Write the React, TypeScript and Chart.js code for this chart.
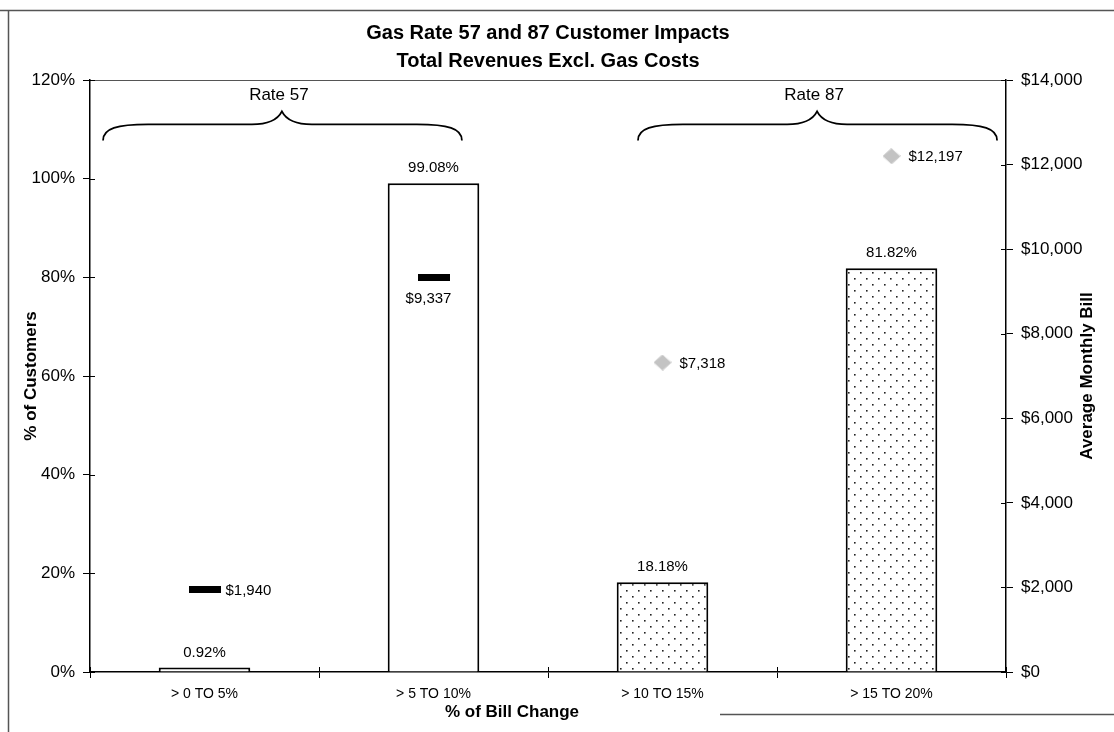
import React, { useEffect, useRef } from 'react';
import { Chart, registerables } from 'chart.js';

Chart.register(...registerables);

const FONT = '"Liberation Sans", Arial, Helvetica, sans-serif';

const titleLines = ['Gas Rate 57 and 87 Customer Impacts', 'Total Revenues Excl. Gas Costs'];
const xAxisTitle = '% of Bill Change';
const yAxisTitle = '% of Customers';
const y2AxisTitle = 'Average Monthly Bill';
const categories = ['> 0 TO 5%', '> 5 TO 10%', '> 10 TO 15%', '> 15 TO 20%'];
const customerPct = [0.92, 99.08, 18.18, 81.82];
const rate57Bill = [1940, 9337, null, null];
const rate87Bill = [null, null, 7318, 12197];
const pctAxis = { min: 0, max: 120, step: 20 };
const billAxis = { min: 0, max: 14000, step: 2000 };
const groups = [
  { label: 'Rate 57', from: -0.443, to: 1.124, tip: 0.338 },
  { label: 'Rate 87', from: 1.893, to: 3.461, tip: 2.675 },
];

const fmtMoney = (v: number) => '$' + v.toLocaleString('en-US');

function makeDotPattern(ctx: CanvasRenderingContext2D) {
  const c = document.createElement('canvas');
  c.width = 12;
  c.height = 12;
  const g = c.getContext('2d')!;
  g.fillStyle = '#ffffff';
  g.fillRect(0, 0, 12, 12);
  g.fillStyle = '#222';
  g.fillRect(2, 2, 1.6, 1.6);
  g.fillRect(8, 8, 1.6, 1.6);
  return ctx.createPattern(c, 'repeat')!;
}

function makeDash() {
  const c = document.createElement('canvas');
  c.width = 32;
  c.height = 7;
  const g = c.getContext('2d')!;
  g.fillStyle = '#000';
  g.fillRect(0, 0, 32, 7);
  return c;
}

function makeDiamond() {
  const c = document.createElement('canvas');
  c.width = 18;
  c.height = 16;
  const g = c.getContext('2d')!;
  g.beginPath();
  g.moveTo(9, 0);
  g.lineTo(18, 8);
  g.lineTo(9, 16);
  g.lineTo(0, 8);
  g.closePath();
  g.save();
  g.clip();
  for (let y = 0; y < 16; y++) {
    for (let x = 0; x < 18; x++) {
      g.fillStyle = (x + y) % 2 === 0 ? '#a0a0a0' : '#e6e6e6';
      g.fillRect(x, y, 1, 1);
    }
  }
  g.restore();
  return c;
}

function drawBrace(ctx: CanvasRenderingContext2D, x1: number, x2: number, xm: number, yBase: number) {
  const drop = 16;
  const rise = 13;
  ctx.beginPath();
  ctx.moveTo(x1, yBase + drop);
  ctx.bezierCurveTo(x1, yBase + 4, x1 + 14, yBase, x1 + 45, yBase);
  ctx.lineTo(xm - 30, yBase);
  ctx.bezierCurveTo(xm - 12, yBase, xm - 4, yBase - 5, xm, yBase - rise);
  ctx.bezierCurveTo(xm + 4, yBase - 5, xm + 12, yBase, xm + 30, yBase);
  ctx.lineTo(x2 - 45, yBase);
  ctx.bezierCurveTo(x2 - 14, yBase, x2, yBase + 4, x2, yBase + drop);
  ctx.stroke();
}

const overlayPlugin = {
  id: 'overlay',
  afterDraw(chart: any) {
    const { ctx, chartArea: ca, scales } = chart;
    const x = scales.x;
    const y = scales.y;
    const y2 = scales.y2;
    ctx.save();

    // page frame
    ctx.strokeStyle = '#555';
    ctx.lineWidth = 1.5;
    ctx.beginPath();
    ctx.moveTo(0, 10.5);
    ctx.lineTo(chart.width, 10.5);
    ctx.moveTo(8.5, 10);
    ctx.lineTo(8.5, chart.height);
    ctx.moveTo(720, 714.5);
    ctx.lineTo(chart.width, 714.5);
    ctx.stroke();

    // top border of plot area
    ctx.strokeStyle = '#555';
    ctx.lineWidth = 1;
    ctx.beginPath();
    ctx.moveTo(ca.left, ca.top + 0.5);
    ctx.lineTo(ca.right, ca.top + 0.5);
    ctx.stroke();

    // inner tick marks
    ctx.strokeStyle = '#000';
    ctx.lineWidth = 1;
    ctx.beginPath();
    y2.ticks.forEach((t: any) => {
      const py = Math.round(y2.getPixelForValue(t.value)) + 0.5;
      ctx.moveTo(ca.right - 5, py);
      ctx.lineTo(ca.right, py);
    });
    for (let i = 0; i <= categories.length; i++) {
      const px = Math.round(x.getPixelForValue(i - 0.5)) + 0.5;
      ctx.moveTo(px, ca.bottom - 5);
      ctx.lineTo(px, ca.bottom);
    }
    y.ticks.forEach((t: any) => {
      const py = Math.round(y.getPixelForValue(t.value)) + 0.5;
      ctx.moveTo(ca.left, py);
      ctx.lineTo(ca.left + 5, py);
    });
    ctx.stroke();

    // titles
    ctx.fillStyle = '#000';
    ctx.textAlign = 'center';
    ctx.textBaseline = 'middle';
    ctx.font = `bold 20px ${FONT}`;
    const cx = 548;
    ctx.fillText(titleLines[0], cx, 33);
    ctx.fillText(titleLines[1], cx, 61);

    // axis titles
    ctx.font = `bold 17px ${FONT}`;
    ctx.fillText(xAxisTitle, 512, 712);
    ctx.save();
    ctx.translate(31, (ca.top + ca.bottom) / 2);
    ctx.rotate(-Math.PI / 2);
    ctx.fillText(yAxisTitle, 0, 0);
    ctx.restore();
    ctx.save();
    ctx.translate(1087, (ca.top + ca.bottom) / 2);
    ctx.rotate(-Math.PI / 2);
    ctx.fillText(y2AxisTitle, 0, 0);
    ctx.restore();

    // braces
    ctx.lineWidth = 1.8;
    groups.forEach((gr) => {
      const x1 = x.getPixelForValue(gr.from);
      const x2 = x.getPixelForValue(gr.to);
      const xm = x.getPixelForValue(gr.tip);
      const yb = y.getPixelForValue(111);
      drawBrace(ctx, x1, x2, xm, yb);
      ctx.font = `17px ${FONT}`;
      ctx.textAlign = 'center';
      ctx.textBaseline = 'middle';
      ctx.fillText(gr.label, xm - 3, yb - 29);
    });

    // bar labels
    ctx.font = `15px ${FONT}`;
    ctx.textAlign = 'center';
    ctx.textBaseline = 'middle';
    const barMeta = chart.getDatasetMeta(2);
    barMeta.data.forEach((bar: any, i: number) => {
      ctx.fillText(customerPct[i].toFixed(2) + '%', bar.x, bar.y - 15);
    });

    // bill labels
    ctx.font = `15px ${FONT}`;
    [0, 1].forEach((di) => {
      const meta = chart.getDatasetMeta(di);
      const vals = di === 0 ? rate57Bill : rate87Bill;
      meta.data.forEach((pt: any, i: number) => {
        const v = vals[i];
        if (v == null) return;
        const bar = barMeta.data[i];
        const insideBar = pt.y > bar.y;
        if (insideBar) {
          ctx.textAlign = 'center';
          ctx.textBaseline = 'middle';
          ctx.fillText(fmtMoney(v), pt.x - 5, pt.y + 22);
        } else {
          ctx.textAlign = 'left';
          ctx.textBaseline = 'middle';
          ctx.fillText(fmtMoney(v), pt.x + (di === 0 ? 21 : 17), pt.y + 1);
        }
      });
    });

    ctx.restore();
  },
};

export default function App() {
  const ref = useRef<HTMLCanvasElement | null>(null);

  useEffect(() => {
    const canvas = ref.current!;
    const ctx = canvas.getContext('2d')!;
    const dots = makeDotPattern(ctx);
    const dash = makeDash();
    const diamond = makeDiamond();

    const chart = new Chart(ctx, {
      type: 'bar',
      data: {
        labels: categories,
        datasets: [
          {
            type: 'line',
            label: 'Rate 57 Avg Bill',
            data: rate57Bill,
            yAxisID: 'y2',
            showLine: false,
            pointStyle: dash as any,
            pointRadius: 10,
            order: 0,
          } as any,
          {
            type: 'line',
            label: 'Rate 87 Avg Bill',
            data: rate87Bill,
            yAxisID: 'y2',
            showLine: false,
            pointStyle: diamond as any,
            pointRadius: 9,
            order: 1,
          } as any,
          {
            type: 'bar',
            label: '% of Customers',
            data: customerPct,
            yAxisID: 'y',
            backgroundColor: ['#ffffff', '#ffffff', dots, dots],
            borderColor: '#000',
            borderWidth: 2,
            barPercentage: 0.4,
            categoryPercentage: 1,
            order: 2,
          },
        ],
      },
      options: {
        animation: false,
        responsive: false,
        maintainAspectRatio: false,
        layout: { padding: { top: 80, left: 0, right: 0, bottom: 0 } },
        plugins: {
          legend: { display: false },
          title: { display: false },
          tooltip: { enabled: false },
        },
        scales: {
          x: {
            offset: true,
            grid: {
              offset: true,
              drawOnChartArea: false,
              drawTicks: true,
              tickLength: 6,
              color: '#000',
            },
            border: { color: '#000', width: 1.5 },
            ticks: {
              color: '#000',
              font: { family: FONT, size: 14 },
              padding: 8,
              maxRotation: 0,
            },
            afterFit: (s: any) => {
              s.height = 60;
            },
          },
          y: {
            position: 'left',
            min: pctAxis.min,
            max: pctAxis.max,
            ticks: {
              stepSize: pctAxis.step,
              color: '#000',
              font: { family: FONT, size: 17 },
              padding: 8,
              callback: (v: any) => v + '%',
            },
            grid: { drawOnChartArea: false, tickLength: 7, color: '#000' },
            border: { color: '#000', width: 1.5 },
            afterFit: (s: any) => {
              s.width = 90;
            },
          },
          y2: {
            position: 'right',
            min: billAxis.min,
            max: billAxis.max,
            ticks: {
              stepSize: billAxis.step,
              color: '#000',
              font: { family: FONT, size: 17 },
              padding: 8,
              callback: (v: any) => fmtMoney(Number(v)),
            },
            grid: { drawOnChartArea: false, tickLength: 7, color: '#000' },
            border: { color: '#000', width: 1.5 },
            afterFit: (s: any) => {
              s.width = 108;
            },
          },
        },
      },
      plugins: [overlayPlugin],
    });

    return () => chart.destroy();
  }, []);

  return (
    <div style={{ position: 'fixed', left: 0, top: 0, width: 1114, height: 732, background: '#fff' }}>
      <canvas ref={ref} width={1114} height={732} style={{ width: 1114, height: 732, display: 'block' }} />
    </div>
  );
}
